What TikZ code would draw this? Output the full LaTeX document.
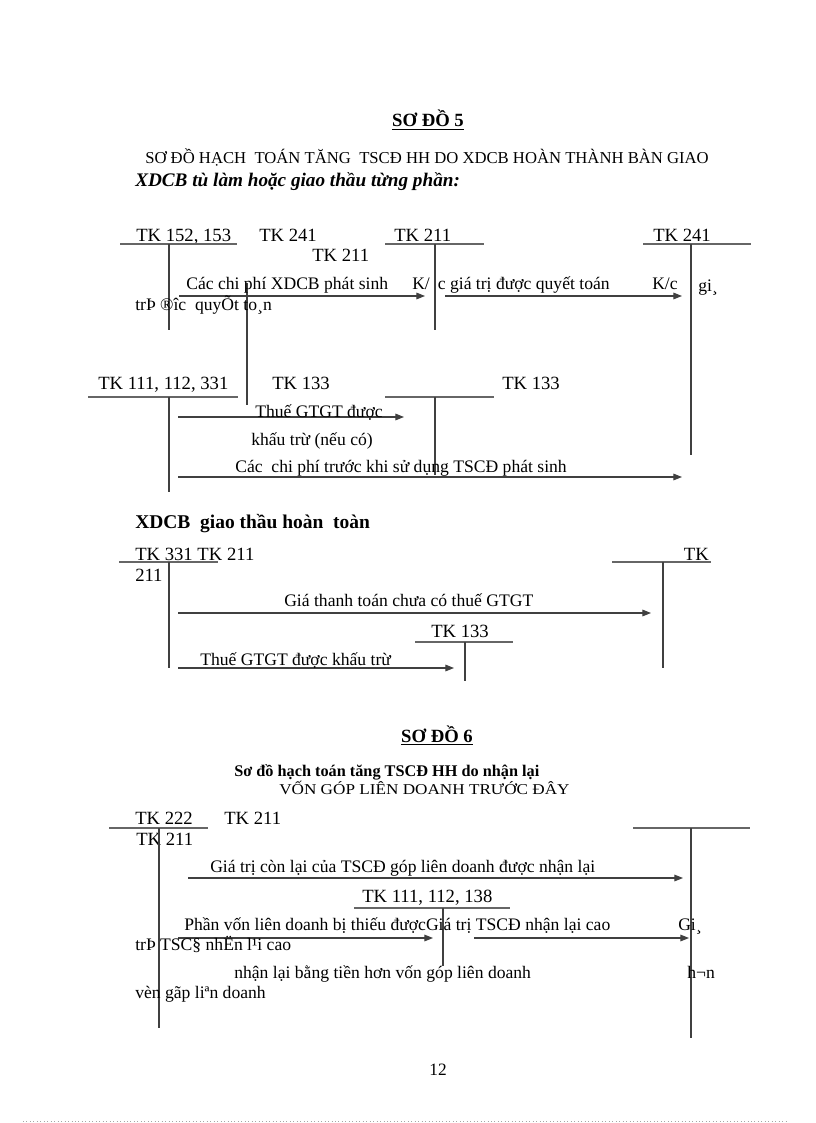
\documentclass[tikz,border=0pt]{standalone}
\usepackage{fontspec}
\setmainfont{Liberation Serif}
\usetikzlibrary{arrows.meta}
\tikzset{
  lab/.style={inner sep=0pt, anchor=base west, font=\fontsize{14}{16}\selectfont},
  txt/.style={inner sep=0pt, anchor=base west, font=\fontsize{13.2}{15}\selectfont},
  acc/.style={draw=black!75, line width=1pt},
  tline/.style={draw=black!60, line width=0.8pt},
  flow/.style={draw=black!75, line width=0.8pt, -{Triangle[length=6.5pt,width=5pt]}},
}
\begin{document}
\begin{tikzpicture}[x=0.75pt,y=-0.75pt]
\fill[white] (0,0) rectangle (816,1123);
\useasboundingbox (0,0) rectangle (816,1123);

% ---------- titles ----------
\node[inner sep=0pt, anchor=base, font=\fontsize{14}{16}\selectfont\bfseries] (title5) at (428,127) {\underline{SƠ ĐỒ 5}};
\node[inner sep=0pt, anchor=base west, font=\fontsize{12.5}{14}\selectfont] (sub5) at (145,164) {SƠ ĐỒ HẠCH\ \ TOÁN TĂNG\ \ TSCĐ HH DO XDCB HOÀN THÀNH BÀN GIAO};
\node[inner sep=0pt, anchor=base west, font=\fontsize{14.4}{16}\selectfont\bfseries\itshape] (part1) at (135,187) {XDCB tù làm hoặc giao thầu từng phần:};

% ---------- section 1, row 1 ----------
\node[lab] (tk152) at (136,241) {TK 152, 153};
\node[lab] (tk241a) at (259,241) {TK 241};
\node[lab] (tk211a) at (312,261) {TK 211};
\node[lab] (tk211b) at (394,241) {TK 211};
\node[lab] (tk241b) at (653,241) {TK 241};

\coordinate (u1a) at (120,244); \coordinate (u1b) at (237,244);
\coordinate (u2a) at (385,244); \coordinate (u2b) at (484,244);
\coordinate (u3a) at (643,244); \coordinate (u3b) at (751,244);
\draw[tline] (u1a) -- (u1b);
\draw[tline] (u2a) -- (u2b);
\draw[tline] (u3a) -- (u3b);

\coordinate (v1t) at (169,244); \coordinate (v1b) at (169,330);
\coordinate (v2t) at (247,283); \coordinate (v2b) at (247,405);
\coordinate (v3t) at (435,244); \coordinate (v3b) at (435,330);
\coordinate (v4t) at (691,244); \coordinate (v4b) at (691,455);
\draw[acc] (v1t) -- (v1b);
\draw[acc] (v2t) -- (v2b);
\draw[acc] (v3t) -- (v3b);
\draw[acc] (v4t) -- (v4b);

\coordinate (a1s) at (179,296); \coordinate (a1e) at (425,296);
\coordinate (a2s) at (445,296); \coordinate (a2e) at (682,296);
\draw[flow] (a1s) -- (a1e);
\draw[flow] (a2s) -- (a2e);

\node[txt] (l1) at (186,289) {Các chi phí XDCB phát sinh};
\node[txt] (l2) at (412,289) {K/\hspace{6pt}c giá trị được quyết toán};
\node[txt] (l3) at (652,289) {K/c};
\node[txt] (l4) at (698,291) {gi¸};
\node[txt] (l5) at (135,310) {trÞ ®îc\ \ quyÕt to¸n};

% ---------- section 1, row 2 ----------
\node[lab] (tk111) at (98,389) {TK 111, 112, 331};
\node[lab] (tk133a) at (272,389) {TK 133};
\node[lab] (tk133b) at (502,389) {TK 133};

\coordinate (u4a) at (88,397); \coordinate (u4b) at (238,397);
\coordinate (u5a) at (385,397); \coordinate (u5b) at (494,397);
\draw[tline] (u4a) -- (u4b);
\draw[tline] (u5a) -- (u5b);

\coordinate (v5t) at (169,397); \coordinate (v5b) at (169,492);
\coordinate (v6t) at (435,397); \coordinate (v6b) at (435,475);
\draw[acc] (v5t) -- (v5b);
\draw[acc] (v6t) -- (v6b);

\coordinate (a3s) at (178,417); \coordinate (a3e) at (404,417);
\coordinate (a4s) at (178,477); \coordinate (a4e) at (682,477);
\draw[flow] (a3s) -- (a3e);
\draw[flow] (a4s) -- (a4e);

\node[txt] (l6) at (255,417) {Thuế GTGT được};
\node[txt] (l7) at (251,445) {khấu trừ (nếu có)};
\node[txt] (l8) at (235,472) {Các\ \ chi phí trước khi sử dụng TSCĐ phát sinh};

% ---------- section 2 ----------
\node[inner sep=0pt, anchor=base west, font=\fontsize{14.6}{16}\selectfont\bfseries] (part2) at (135,528) {XDCB\ \ giao thầu hoàn\ \ toàn};
\node[lab] (tk331) at (135,560) {TK 331 TK 211};
\node[lab] (n211) at (135,581) {211};
\node[lab, anchor=base east] (tkr) at (709,560) {TK};

\coordinate (u6a) at (119,562); \coordinate (u6b) at (218,562);
\coordinate (u7a) at (612,562); \coordinate (u7b) at (711,562);
\draw[tline] (u6a) -- (u6b);
\draw[tline] (u7a) -- (u7b);

\coordinate (v7t) at (169,562); \coordinate (v7b) at (169,668);
\coordinate (v8t) at (663,562); \coordinate (v8b) at (663,668);
\draw[acc] (v7t) -- (v7b);
\draw[acc] (v8t) -- (v8b);

\coordinate (a5s) at (178,613); \coordinate (a5e) at (651,613);
\draw[flow] (a5s) -- (a5e);
\node[txt] (l9) at (284,606) {Giá thanh toán chưa có thuế GTGT};

\node[lab] (tk133c) at (431,637) {TK 133};
\coordinate (u8a) at (415,642); \coordinate (u8b) at (513,642);
\draw[tline] (u8a) -- (u8b);
\coordinate (v9t) at (465,642); \coordinate (v9b) at (465,681);
\draw[acc] (v9t) -- (v9b);

\coordinate (a6s) at (178,668); \coordinate (a6e) at (454,668);
\draw[flow] (a6s) -- (a6e);
\node[txt] (l10) at (200,665) {Thuế GTGT được khấu trừ};

% ---------- section 3 ----------
\node[inner sep=0pt, anchor=base, font=\fontsize{14}{16}\selectfont\bfseries] (title6) at (437,742) {\underline{SƠ ĐỒ 6}};
\node[inner sep=0pt, anchor=base west, font=\fontsize{12.2}{14}\selectfont\bfseries] (sub6a) at (234,776) {Sơ đồ hạch toán tăng TSCĐ HH do nhận lại};
\node[inner sep=0pt, anchor=base west, font=\fontsize{12.5}{14}\selectfont] (sub6b) at (279,794) {\scalebox{1.03}[0.9]{VỐN GÓP LIÊN DOANH TRƯỚC ĐÂY}};

\node[lab] (tk222) at (135,824) {TK 222};
\node[lab] (tk211c) at (224,824) {TK 211};
\node[lab] (tk211d) at (136,845) {TK 211};

\coordinate (u9a) at (109,828); \coordinate (u9b) at (208,828);
\coordinate (u10a) at (633,828); \coordinate (u10b) at (750,828);
\draw[tline] (u9a) -- (u9b);
\draw[tline] (u10a) -- (u10b);

\coordinate (v10t) at (159,828); \coordinate (v10b) at (159,1028);
\coordinate (v11t) at (691,828); \coordinate (v11b) at (691,1038);
\draw[acc] (v10t) -- (v10b);
\draw[acc] (v11t) -- (v11b);

\coordinate (a7s) at (188,878); \coordinate (a7e) at (683,878);
\draw[flow] (a7s) -- (a7e);
\node[txt] (l11) at (210,872) {Giá trị còn lại của TSCĐ góp liên doanh được nhận lại};

\node[lab] (tk111b) at (362,902) {TK 111, 112, 138};
\coordinate (u11a) at (354,908); \coordinate (u11b) at (510,908);
\draw[tline] (u11a) -- (u11b);
\coordinate (v12t) at (443,908); \coordinate (v12b) at (443,966);
\draw[acc] (v12t) -- (v12b);

\coordinate (a8s) at (178,938); \coordinate (a8e) at (433,938);
\coordinate (a9s) at (474,938); \coordinate (a9e) at (689,938);
\draw[flow] (a8s) -- (a8e);
\draw[flow] (a9s) -- (a9e);

\node[txt] (l12) at (184,930) {Phần vốn liên doanh bị thiếu đượcGiá trị TSCĐ nhận lại cao};
\node[txt] (l13) at (678,930) {Gi¸};
\node[txt] (l14) at (135,950) {trÞ TSC§ nhËn l¹i cao};
\node[txt] (l15) at (234,978) {nhận lại bằng tiền hơn vốn góp liên doanh};
\node[txt] (l16) at (687,978) {h¬n};
\node[txt] (l17) at (135,998) {vèn gãp liªn doanh};

% ---------- page number and footer ----------
\node[inner sep=0pt, anchor=base, font=\fontsize{13}{15}\selectfont] (page) at (438,1075) {12};
\coordinate (f1) at (23,1121); \coordinate (f2) at (789,1121);
\draw[black!35, line width=0.6pt, dotted] (f1) -- (f2);
\end{tikzpicture}
\end{document}
